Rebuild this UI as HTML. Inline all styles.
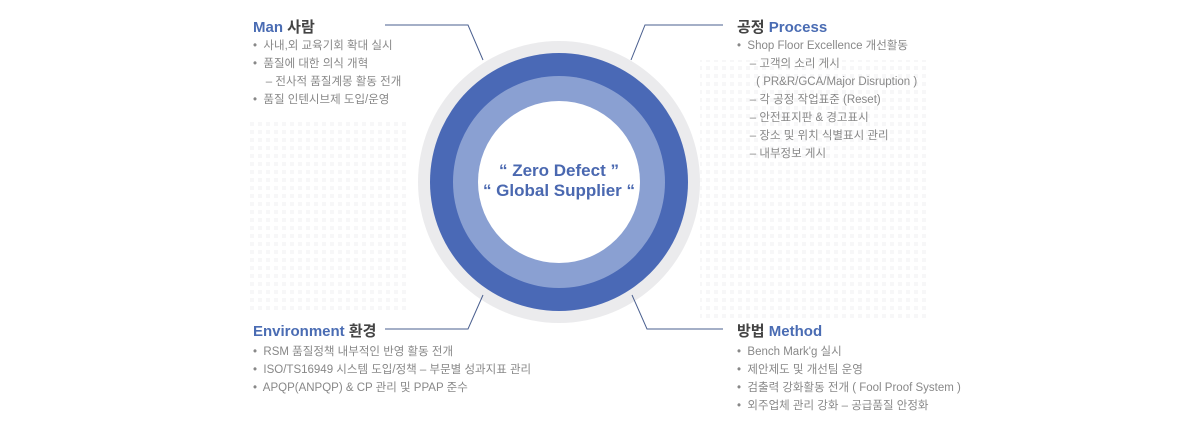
<!DOCTYPE html>
<html><head><meta charset="utf-8"><style>
body{margin:0;width:1200px;height:443px;background:#fff;position:relative;overflow:hidden;font-family:"Liberation Sans","Noto Sans CJK KR",sans-serif;}
.t{position:absolute;font-size:15px;font-weight:bold;color:#444;white-space:nowrap;}
.t b{color:#4a6cb3;}
.l{position:absolute;font-size:11.5px;color:#888;white-space:nowrap;line-height:18px;}
.l div{position:relative;}
.ct{position:absolute;left:459px;width:200px;top:161px;text-align:center;color:#4a68b0;font-weight:bold;font-size:17px;line-height:20px;}
</style></head><body>
<svg width="1200" height="443" style="position:absolute;left:0;top:0">
<defs><pattern id="d" width="8" height="8" patternUnits="userSpaceOnUse"><rect x="2" y="2" width="4" height="4" fill="#f7f7f8"/></pattern></defs>
<rect x="250" y="120" width="160" height="190" fill="url(#d)"/>
<rect x="700" y="60" width="230" height="260" fill="url(#d)"/>
<circle cx="559" cy="182" r="141" fill="#ebebed"/>
<circle cx="559" cy="182" r="129" fill="#4a69b6"/>
<circle cx="559" cy="182" r="106" fill="#8aa0d2"/>
<circle cx="559" cy="182" r="81" fill="#fff"/>
<g stroke="#4a5f8f" stroke-width="1" fill="none">
<polyline points="385,25 468,25 483,60"/>
<polyline points="631,60 645,25 723,25"/>
<polyline points="385,329 468,329 483,295"/>
<polyline points="632,295 647,329 723,329"/>
</g>
</svg>
<div class="ct">“ Zero Defect ”<br>“ Global Supplier “</div>
<div class="t" style="left:253px;top:16px"><b>Man</b> 사람</div>
<div class="l" style="left:253px;top:37px">
<div>•&nbsp; 사내,외 교육기회 확대 실시</div>
<div>•&nbsp; 품질에 대한 의식 개혁</div>
<div>&nbsp;&nbsp;&nbsp; – 전사적 품질계몽 활동 전개</div>
<div>•&nbsp; 품질 인텐시브제 도입/운영</div>
</div>
<div class="t" style="left:737px;top:16px">공정 <b>Process</b></div>
<div class="l" style="left:737px;top:37px">
<div>•&nbsp; Shop Floor Excellence 개선활동</div>
<div>&nbsp;&nbsp;&nbsp; – 고객의 소리 게시</div>
<div>&nbsp;&nbsp;&nbsp;&nbsp;&nbsp;&nbsp;( PR&amp;R/GCA/Major Disruption )</div>
<div>&nbsp;&nbsp;&nbsp; – 각 공정 작업표준 (Reset)</div>
<div>&nbsp;&nbsp;&nbsp; – 안전표지판 &amp; 경고표시</div>
<div>&nbsp;&nbsp;&nbsp; – 장소 및 위치 식별표시 관리</div>
<div>&nbsp;&nbsp;&nbsp; – 내부정보 게시</div>
</div>
<div class="t" style="left:253px;top:320px"><b>Environment</b> 환경</div>
<div class="l" style="left:253px;top:343px">
<div>•&nbsp; RSM 품질정책 내부적인 반영 활동 전개</div>
<div>•&nbsp; ISO/TS16949 시스템 도입/정책 – 부문별 성과지표 관리</div>
<div>•&nbsp; APQP(ANPQP) &amp; CP 관리 및 PPAP 준수</div>
</div>
<div class="t" style="left:737px;top:320px">방법 <b>Method</b></div>
<div class="l" style="left:737px;top:343px">
<div>•&nbsp; Bench Mark'g 실시</div>
<div>•&nbsp; 제안제도 및 개선팀 운영</div>
<div>•&nbsp; 검출력 강화활동 전개 ( Fool Proof System )</div>
<div>•&nbsp; 외주업체 관리 강화 – 공급품질 안정화</div>
</div>
</body></html>
